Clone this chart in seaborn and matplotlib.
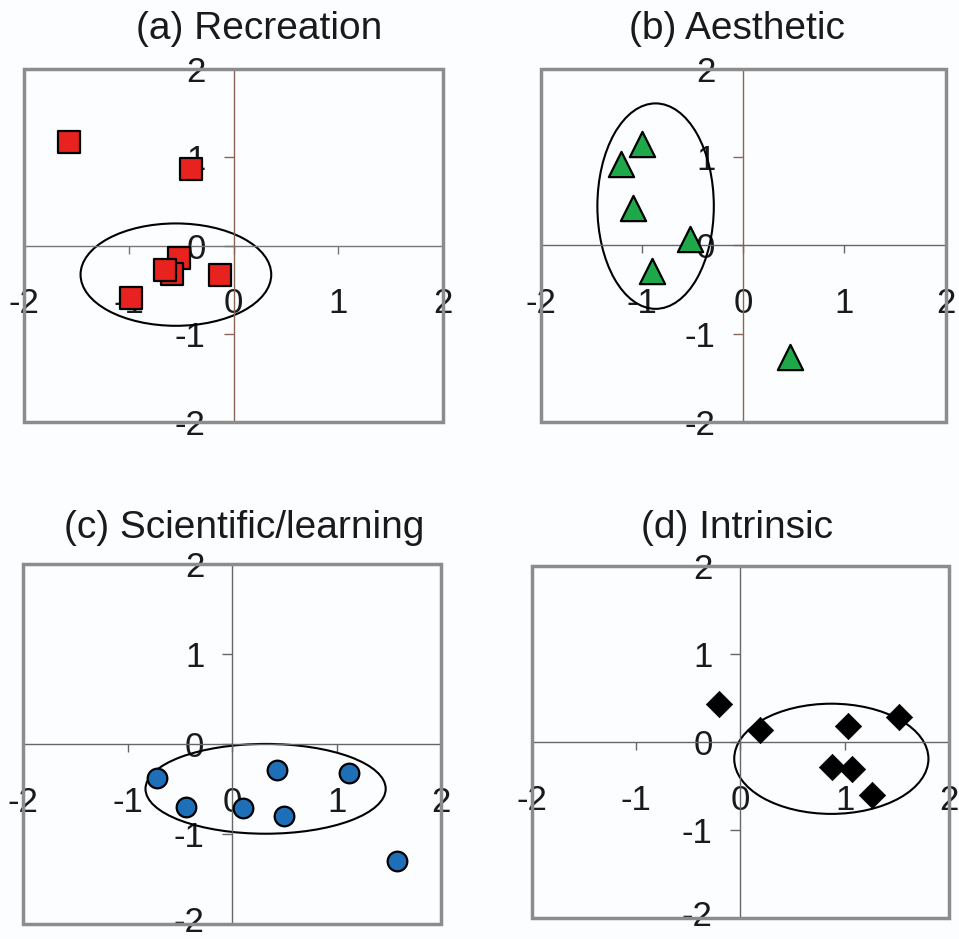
import numpy as np
import pandas as pd
import matplotlib
matplotlib.use("Agg")
import matplotlib.pyplot as plt
import matplotlib.transforms as mtransforms
from matplotlib.patches import Ellipse, Rectangle
import seaborn as sns

sns.set_theme(style="white")
plt.rcParams['font.family'] = ['Liberation Sans', 'DejaVu Sans']

# ---- data ----
titles = ["(a) Recreation", "(b) Aesthetic", "(c) Scientific/learning", "(d) Intrinsic"]

rec_x = [-1.57, -0.41, -0.52, -0.59, -0.65, -0.13, -0.98]
rec_y = [1.17, 0.87, -0.14, -0.32, -0.28, -0.33, -0.60]

aes_x = [-1.00, -1.21, -1.09, -0.53, -0.90, 0.46]
aes_y = [1.15, 0.92, 0.42, 0.07, -0.29, -1.27]

sci_x = [-0.72, -0.44, 0.105, 0.425, 0.495, 1.12, 1.575]
sci_y = [-0.385, -0.70, -0.71, -0.285, -0.80, -0.32, -1.30]

int_x = [-0.21, 0.19, 1.03, 1.52, 0.88, 1.07, 1.26]
int_y = [0.435, 0.14, 0.185, 0.28, -0.28, -0.31, -0.60]

# ellipse: center x, center y, width, height
ell_rec = [-0.55, -0.33, 1.82, 1.16]
ell_aes = [-0.865, 0.445, 1.15, 2.33]
ell_sci = [0.32, -0.50, 2.30, 1.00]
ell_int = [0.87, -0.19, 1.86, 1.25]

ticks = [-2, -1, 0, 1, 2]
tick_labels = ["-2", "-1", "0", "1", "2"]

# ---- figure ----
bg = "#fcfdff"
fig = plt.figure(figsize=(9.59, 9.39), dpi=100, facecolor=bg)

panels = [
    dict(x=rec_x, y=rec_y, ell=ell_rec, marker="s", color="#e8231f", s=260, ew=1.6,
         rect=[0.025, 0.5506, 0.437, 0.3759], vcol="#8a6457", hcol="#777777",
         tpos=(0.270, 0.969), bottom_row=False),
    dict(x=aes_x, y=aes_y, ell=ell_aes, marker="^", color="#1fa84a", s=330, ew=1.6,
         rect=[0.5638, 0.5509, 0.4223, 0.3756], vcol="#8a6457", hcol="#666666",
         tpos=(0.768, 0.969), bottom_row=False),
    dict(x=sci_x, y=sci_y, ell=ell_sci, marker="o", color="#1f6fb8", s=200, ew=1.6,
         rect=[0.0243, 0.0165, 0.4356, 0.3825], vcol="#666666", hcol="#666666",
         tpos=(0.255, 0.4377), bottom_row=True),
    dict(x=int_x, y=int_y, ell=ell_int, marker="D", color="#000000", s=180, ew=0.5,
         rect=[0.5544, 0.0220, 0.4355, 0.3755], vcol="#666666", hcol="#666666",
         tpos=(0.768, 0.4377), bottom_row=True),
]

for p, title in zip(panels, titles):
    ax = fig.add_axes(p["rect"])
    ax.set_facecolor(bg)
    df = pd.DataFrame({"x": p["x"], "y": p["y"]})
    cx, cy, w, h = p["ell"]
    ax.add_patch(Ellipse((cx, cy), w, h, fill=False, edgecolor="black", lw=1.5, zorder=2))
    sns.scatterplot(data=df, x="x", y="y", ax=ax, marker=p["marker"], s=p["s"],
                    color=p["color"], edgecolor="black", linewidth=p["ew"], zorder=3,
                    legend=False)
    ax.set_xlim(-2, 2)
    ax.set_ylim(-2, 2)
    ax.set_xlabel("")
    ax.set_ylabel("")
    for side in ["top", "right"]:
        ax.spines[side].set_visible(False)
    ax.spines["left"].set_position(("data", 0))
    ax.spines["bottom"].set_position(("data", 0))
    ax.spines["left"].set_color(p["vcol"])
    ax.spines["bottom"].set_color(p["hcol"])
    ax.spines["left"].set_linewidth(1.0)
    ax.spines["bottom"].set_linewidth(1.0)
    ax.set_xticks(ticks)
    ax.set_xticklabels(tick_labels)
    ax.set_yticks(ticks)
    ax.set_yticklabels(tick_labels)
    ax.tick_params(axis="x", direction="out", length=6, width=1, color=p["hcol"],
                   labelsize=25, pad=24, labelcolor="#1a1a1a", bottom=True)
    ax.tick_params(axis="y", direction="out", length=7, width=1, color=p["vcol"],
                   labelsize=25, pad=13, labelcolor="#1a1a1a", left=True)
    for lbl in ax.get_yticklabels():
        lbl.set_verticalalignment("center_baseline")
    if p["bottom_row"]:
        lowest = ax.get_yticklabels()[0]
        lowest.set_transform(lowest.get_transform() +
                             mtransforms.ScaledTranslation(0, 5 / 100, fig.dpi_scale_trans))
    ax.add_patch(Rectangle((0, 0), 1, 1, transform=ax.transAxes, fill=False,
                           edgecolor="#8c8c8c", lw=2.5, zorder=5, clip_on=False))
    fig.text(p["tpos"][0], p["tpos"][1], title, ha="center", va="center",
             fontsize=28, color="#1a1a1a")

fig.savefig("out.png", dpi=100, facecolor=bg)
